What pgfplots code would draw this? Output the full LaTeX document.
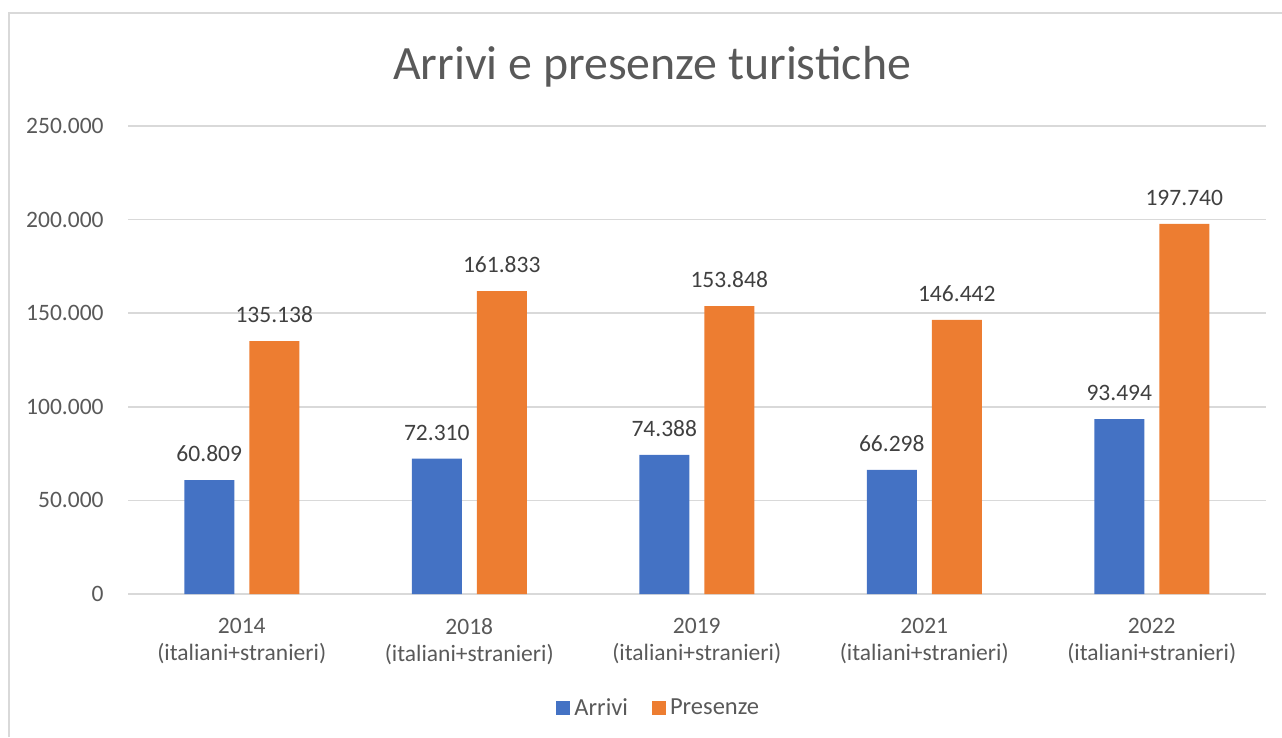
\documentclass[border=0pt]{standalone}
\usepackage{pgfplots}
\pgfplotsset{compat=1.18}
\usepackage{fontspec}
\setmainfont{Carlito}
\definecolor{cblue}{HTML}{4472C4}
\definecolor{corange}{HTML}{ED7D31}
\definecolor{gridc}{HTML}{D9D9D9}
\definecolor{txt}{HTML}{595959}
\definecolor{lbl}{HTML}{404040}
\begin{document}
\begin{tikzpicture}[x=0.5bp,y=-0.5bp]
\useasboundingbox (0,0) rectangle (1282,737);
\draw[gridc, line width=0.7bp] (9,737) -- (9,13) -- (1282,13);
\node[txt, font=\fontsize{24}{28}\selectfont, anchor=base] at (652,79) {Arrivi e presenze turistiche};
\begin{axis}[
  at={(64bp,-297bp)}, anchor=south west,
  scale only axis, width=568.75bp, height=234bp,
  ybar=7.5bp, bar width=25bp,
  xmin=-0.5, xmax=4.5, ymin=0, ymax=250000,
  axis line style={draw=none},
  scaled y ticks=false,
  xtick={0,1,2,3,4},
  xticklabels={{2014\\(italiani+stranieri)},{2018\\(italiani+stranieri)},{2019\\(italiani+stranieri)},{2021\\(italiani+stranieri)},{2022\\(italiani+stranieri)}},
  ytick={0,50000,100000,150000,200000,250000},
  yticklabels={0,50.000,100.000,150.000,200.000,250.000},
  major tick length=0pt,
  ymajorgrids, grid style={gridc, line width=0.8bp},
  xticklabel style={txt, font=\fontsize{11.8}{13.6}\selectfont, align=center, anchor=north, inner sep=0pt, yshift=-12bp},
  yticklabel style={txt, font=\fontsize{11.8}{14}\selectfont, anchor=east, inner sep=0pt, xshift=-12bp},
  nodes near coords,
  every node near coord/.append style={lbl, font=\fontsize{11.8}{14}\selectfont, anchor=south, inner sep=0pt, yshift=9bp,
     /pgf/number format/.cd, fixed, precision=0, 1000 sep={.}, assume math mode=true},
  legend columns=2,
  legend style={draw=none, fill=none, at={(0.4675,-0.2445)}, anchor=center,
     font=\fontsize{12.3}{14}\selectfont, text=txt,
     /tikz/every even column/.append style={column sep=10bp},
     nodes={inner xsep=2bp, inner ysep=0pt}},
  legend image code/.code={\fill[#1] (0bp,-3.5bp) rectangle (7bp,3.5bp);},
]
\addplot[fill=cblue, draw=none] coordinates {(0,60809) (1,72310) (2,74388) (3,66298) (4,93494)};
\addplot[fill=corange, draw=none] coordinates {(0,135138) (1,161833) (2,153848) (3,146442) (4,197740)};
\legend{Arrivi,Presenze}
\end{axis}
\end{tikzpicture}
\end{document}
